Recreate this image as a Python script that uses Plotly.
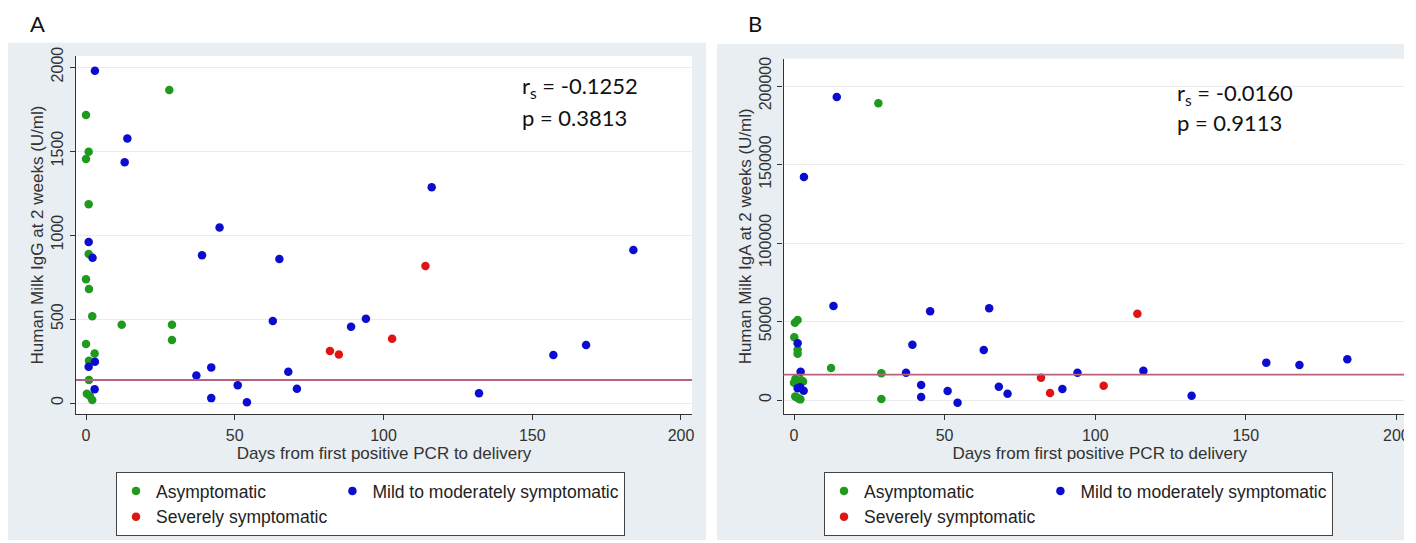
import plotly.graph_objects as go

W, H = 1416, 543

# ---------------- Panel A data (IgG, U/ml) ----------------
a_asym_days = [28.0, 0.0, 0.9, 0.0, 0.9, 0.9, 0.0, 1.0, 2.1, 12.0, 28.9, 28.9, 0.0, 2.9, 1.0, 1.0, 0.3, 1.3, 2.1]
a_asym_igg = [1863, 1714, 1496, 1452, 1183, 887, 736, 679, 516, 466, 466, 375, 351, 294, 252, 137, 55, 42, 18]
a_mild_days = [3.0, 13.9, 13.0, 44.9, 0.9, 2.2, 39.0, 65.0, 116.2, 184.0, 94.1, 89.1, 62.8, 157.1, 168.1,
               132.1, 3.0, 0.9, 42.1, 37.1, 68.0, 2.9, 42.1, 51.0, 54.1, 70.9]
a_mild_igg = [1978, 1575, 1433, 1044, 958, 865, 879, 857, 1284, 911, 502, 454, 488, 286, 345,
              58, 246, 216, 212, 163, 186, 82, 29, 106, 5, 85]
a_sev_days = [114.1, 102.9, 82.0, 85.0]
a_sev_igg = [815, 382, 310, 289]
a_cutoff = 137
a_stats = ["r<sub>s</sub> = -0.1252", "p = 0.3813"]

# ---------------- Panel B data (IgA, U/ml) ----------------
b_asym_days = [28.0, 12.3, 29.0, 29.0, 1.2, 0.3, 0.1, 1.2, 1.2, 0.0, 1.0, 2.0, 3.0, 0.5, 2.4, 0.9, 2.1, 1.5, 0.4]
b_asym_iga = [189000, 20400, 17000, 640, 51000, 49200, 39900, 32000, 29500, 11000, 12500, 11200, 11800, 13500,
              12600, 1700, 400, 900, 2200]
b_mild_days = [14.2, 3.3, 13.1, 1.2, 2.2, 37.2, 39.3, 45.2, 64.8, 63.0, 42.2, 42.2, 51.0, 54.3, 68.0,
               70.9, 89.1, 1.2, 3.2, 2.0, 94.1, 116.0, 132.0, 156.8, 167.8, 183.7]
b_mild_iga = [193000, 142000, 59900, 36100, 18000, 17400, 35200, 56500, 58400, 31800, 9550, 1900, 5730, -1700, 8400,
              4000, 7000, 7450, 5900, 8200, 17400, 18600, 2650, 23800, 22300, 25900]
b_sev_days = [114.0, 102.8, 82.0, 85.0]
b_sev_iga = [54900, 9100, 14200, 4400]
b_cutoff = 16100
b_stats = ["r<sub>s</sub> = -0.0160", "p = 0.9113"]

group_names = ["Asymptomatic", "Mild to moderately symptomatic", "Severely symptomatic"]
group_colors = ["#1f9a1f", "#0c0cd0", "#e01414"]
x_ticks = [0, 50, 100, 150, 200]
a_y_ticks = [0, 500, 1000, 1500, 2000]
b_y_ticks = [0, 50000, 100000, 150000, 200000]

ARIAL = "Liberation Sans, Arial, sans-serif"
CAL = "Lato, Open Sans, sans-serif"
BG = "#e8eef1"
AXC = "#333333"


def px(x):
    return x / W


def py(y):
    return 1 - y / H


fig = go.Figure()

panels = [
    ("x", "y", "legend", "a", [(a_asym_days, a_asym_igg), (a_mild_days, a_mild_igg), (a_sev_days, a_sev_igg)]),
    ("x2", "y2", "legend2", "b", [(b_asym_days, b_asym_iga), (b_mild_days, b_mild_iga), (b_sev_days, b_sev_iga)]),
]
for xa, ya, leg, tag, series in panels:
    for i in range(3):
        xs, ys = series[i]
        fig.add_trace(go.Scatter(
            x=xs, y=ys, mode="markers", name=group_names[i],
            marker=dict(color=group_colors[i], size=8.5, line=dict(width=0)),
            xaxis=xa, yaxis=ya, legend=leg,
            legendgroup=f"{tag}{'1' if i != 1 else '2'}",
        ))

axis_common = dict(
    showline=True, linecolor=AXC, linewidth=1.3, ticks="outside", ticklen=5,
    tickcolor=AXC, tickwidth=1, zeroline=False, automargin=False,
    tickfont=dict(family=ARIAL, size=16, color=AXC),
)
title_font = dict(family=ARIAL, size=17, color=AXC)
legend_font = dict(family=ARIAL, size=17.5, color="#222222")

# Panel geometry (pixels)
a_x0, a_x1, a_yt, a_yb = 76, 692, 56, 414
b_x0, b_x1, b_yt, b_yb = 783.5, 1416, 58.7, 414

fig.update_layout(
    width=W, height=H,
    margin=dict(l=0, r=0, t=0, b=0, autoexpand=False),
    paper_bgcolor="white", plot_bgcolor="white",
    xaxis=dict(domain=[px(a_x0), px(a_x1)], range=[-3.36, 203.7], tickvals=x_ticks, anchor="y",
               showgrid=False, ticklabelstandoff=2,
               title=dict(text="Days from first positive PCR to delivery", font=title_font, standoff=0),
               **axis_common),
    yaxis=dict(domain=[py(a_yb), py(a_yt)], range=[-65.5, 2065.5], tickvals=a_y_ticks, anchor="x",
               tickangle=-90, showgrid=True, gridcolor="#ebebeb", gridwidth=1, tickformat="d",
               title=dict(text="Human Milk IgG at 2 weeks (U/ml)", font=title_font, standoff=1),
               **axis_common),
    xaxis2=dict(domain=[px(b_x0), px(b_x1)], range=[-3.49, 206.5], tickvals=x_ticks, anchor="y2",
                showgrid=False, ticklabelstandoff=2,
                title=dict(text="Days from first positive PCR to delivery", font=title_font, standoff=0),
                **axis_common),
    yaxis2=dict(domain=[py(b_yb), py(b_yt)], range=[-8917, 217389], tickvals=b_y_ticks, anchor="x2",
                tickangle=-90, showgrid=True, gridcolor="#ebebeb", gridwidth=1, tickformat="d",
                title=dict(text="Human Milk IgA at 2 weeks (U/ml)", font=title_font, standoff=0),
                **axis_common),
    legend=dict(orientation="h", traceorder="grouped", x=px(116), y=py(472), xanchor="left", yanchor="top",
                bgcolor="white", bordercolor="#444444", borderwidth=1, tracegroupgap=35,
                font=legend_font),
    legend2=dict(orientation="h", traceorder="grouped", x=px(824), y=py(472), xanchor="left", yanchor="top",
                 bgcolor="white", bordercolor="#444444", borderwidth=1, tracegroupgap=35,
                 font=legend_font),
)

shapes = [
    # outer graph regions
    dict(type="rect", xref="paper", yref="paper", x0=px(8), x1=px(706), y0=py(540), y1=py(42.7),
         fillcolor=BG, line=dict(width=0), layer="below"),
    dict(type="rect", xref="paper", yref="paper", x0=px(717), x1=px(1404), y0=py(540), y1=py(44),
         fillcolor=BG, line=dict(width=0), layer="below"),
    # white plot regions
    dict(type="rect", xref="x domain", yref="y domain", x0=0, x1=1, y0=0, y1=1,
         fillcolor="white", line=dict(width=0), layer="below"),
    dict(type="rect", xref="x2 domain", yref="y2 domain", x0=0, x1=1, y0=0, y1=1,
         fillcolor="white", line=dict(width=0), layer="below"),
    # cut-off lines
    dict(type="line", xref="x domain", yref="y", x0=0, x1=1, y0=a_cutoff, y1=a_cutoff,
         line=dict(color="#b5637a", width=1.8)),
    dict(type="line", xref="x2 domain", yref="y2", x0=0, x1=1, y0=b_cutoff, y1=b_cutoff,
         line=dict(color="#b5637a", width=1.8)),
    # image crop on the right edge
    dict(type="rect", xref="paper", yref="paper", x0=px(1404), x1=1, y0=0, y1=1,
         fillcolor="white", line=dict(width=0), layer="above"),
]
fig.update_layout(shapes=shapes)

annotations = [
    dict(text="A", x=px(37), y=py(23), xref="paper", yref="paper", showarrow=False,
         xanchor="center", yanchor="middle", font=dict(family=CAL, size=22, color="#111111")),
    dict(text="B", x=px(755), y=py(23), xref="paper", yref="paper", showarrow=False,
         xanchor="center", yanchor="middle", font=dict(family=CAL, size=22, color="#111111")),
]
for stats, x0, ys in [(a_stats, 520, (87, 117)), (b_stats, 1175, (94, 123))]:
    for txt, yy in zip(stats, ys):
        annotations.append(dict(text=txt, x=px(x0), y=py(yy), xref="paper", yref="paper",
                                xanchor="left", yanchor="middle", showarrow=False,
                                font=dict(family=CAL, size=22, color="#111111")))
fig.update_layout(annotations=annotations)

fig.write_html("out.html")
